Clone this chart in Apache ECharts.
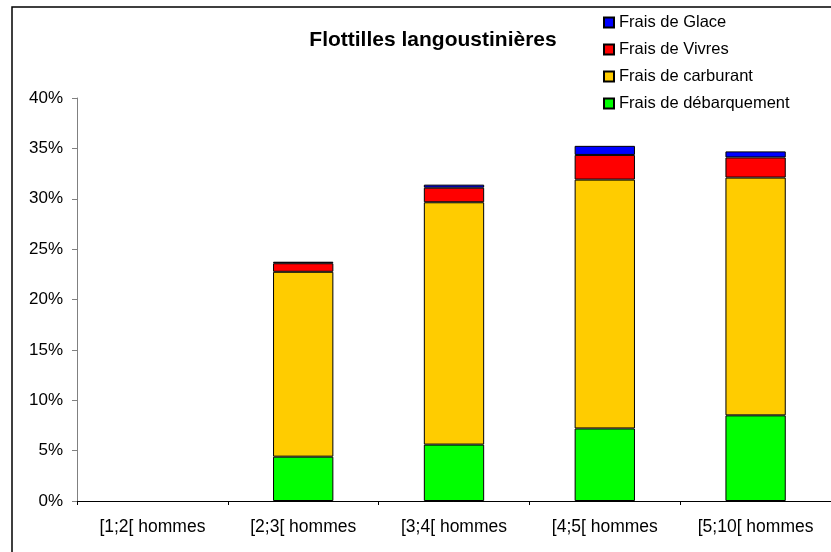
<!DOCTYPE html>
<html>
<head>
<meta charset="utf-8">
<script src="https://cdn.jsdelivr.net/npm/echarts@6/dist/echarts.min.js"></script>
<style>html,body{margin:0;padding:0;background:#fff;}#c{width:831px;height:552px;}</style>
</head>
<body>
<div id="c"></div>
<script>
var categories = ['[1;2[ hommes', '[2;3[ hommes', '[3;4[ hommes', '[4;5[ hommes', '[5;10[ hommes'];
var debarquement = [0, 4.4, 5.6, 7.2, 8.5];
var carburant = [0, 18.35, 24.05, 24.7, 23.6];
var vivres = [0, 0.85, 1.45, 2.45, 2.0];
var glace = [0, 0.15, 0.3, 0.9, 0.6];
var yTicks = [0, 5, 10, 15, 20, 25, 30, 35, 40];

var chart = echarts.init(document.getElementById('c'));
var font = 'Liberation Sans, Arial, sans-serif';
function ser(name, data, color) {
  return {
    name: name, type: 'bar', stack: 'total',
    data: data.map(function (v) { return v === 0 ? '-' : v; }),
    barWidth: '40%',
    itemStyle: { color: color, borderColor: '#000', borderWidth: 1 },
    emphasis: { disabled: true }
  };
}
chart.setOption({
  animation: false,
  title: {
    text: 'Flottilles langoustinières', left: 428, top: 25, textAlign: 'center',
    textStyle: { fontFamily: font, fontSize: 21, fontWeight: 'bold', color: '#000' }
  },
  legend: {
    orient: 'vertical', left: 598, top: 9, itemGap: 10, itemWidth: 10, itemHeight: 10,
    icon: 'rect',
    data: ['Frais de Glace', 'Frais de Vivres', 'Frais de carburant', 'Frais de débarquement'],
    textStyle: { fontFamily: font, fontSize: 16.5, color: '#000' }
  },
  grid: { left: 77, top: 98, width: 755, bottom: 51, containLabel: false },
  xAxis: {
    type: 'category', data: categories,
    axisLine: { lineStyle: { color: '#000', width: 1 } },
    axisTick: { show: true, length: 4, lineStyle: { color: '#000' } },
    axisLabel: { fontFamily: font, fontSize: 17.5, color: '#000', margin: 17 }
  },
  yAxis: {
    type: 'value', min: 0, max: 40, interval: 5,
    axisLine: { show: true, lineStyle: { color: '#808080', width: 1 } },
    axisTick: { show: true, length: 5, lineStyle: { color: '#808080' } },
    splitLine: { show: false },
    axisLabel: {
      fontFamily: font, fontSize: 17, color: '#000', margin: 14,
      formatter: function (v) { return yTicks.indexOf(v) >= 0 ? v + '%' : ''; }
    }
  },
  graphic: [{
    type: 'rect', shape: { x: 12, y: 7, width: 840, height: 580 },
    style: { fill: null, stroke: '#000', lineWidth: 1.5 }, silent: true
  }],
  series: [
    ser('Frais de débarquement', debarquement, '#00ff00'),
    ser('Frais de carburant', carburant, '#ffcc00'),
    ser('Frais de Vivres', vivres, '#ff0000'),
    ser('Frais de Glace', glace, '#0000ff')
  ]
});
</script>
</body>
</html>
